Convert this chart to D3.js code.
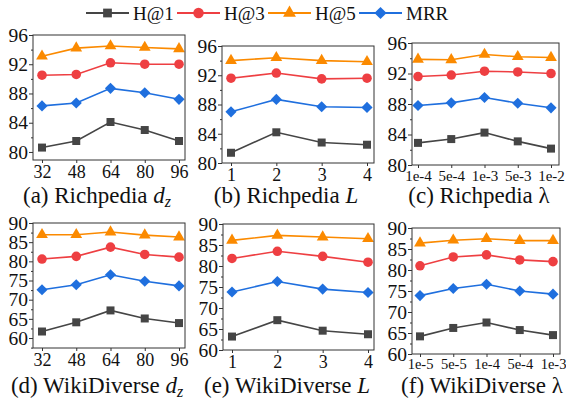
<!DOCTYPE html>
<html lang="en">
<head>
<meta charset="utf-8">
<title>Sensitivity panels</title>
<script src="https://d3js.org/d3.v7.min.js"></script>
</head>
<body style="margin:0">
<div id="chart"></div>
<script>
// categories (x tick labels)
var dzCats = ["32", "48", "64", "80", "96"];
var layerCats = ["1", "2", "3", "4"];
var richLamCats = ["1e-4", "5e-4", "1e-3", "5e-3", "1e-2"];
var wikiLamCats = ["1e-5", "5e-5", "1e-4", "5e-4", "1e-3"];

// y tick labels
var richTicks = [80, 84, 88, 92, 96];
var wikiTicks = [60, 65, 70, 75, 80, 85, 90];

// series names
var seriesNames = ["H@1", "H@3", "H@5", "MRR"];

// (a) Richpedia d_z
var aH1 = [80.6, 81.5, 84.1, 83.0, 81.5];
var aH3 = [90.5, 90.6, 92.2, 92.0, 92.0];
var aH5 = [93.1, 94.2, 94.5, 94.3, 94.1];
var aMRR = [86.3, 86.7, 88.7, 88.1, 87.2];
// (b) Richpedia L
var bH1 = [81.4, 84.2, 82.8, 82.5];
var bH3 = [91.6, 92.3, 91.5, 91.6];
var bH5 = [94.0, 94.4, 94.0, 93.85];
var bMRR = [87.0, 88.7, 87.7, 87.6];
// (c) Richpedia lambda
var cH1 = [82.9, 83.4, 84.25, 83.1, 82.15];
var cH3 = [91.6, 91.8, 92.3, 92.2, 92.0];
var cH5 = [93.85, 93.8, 94.5, 94.2, 94.1];
var cMRR = [87.8, 88.15, 88.85, 88.1, 87.5];
// (d) WikiDiverse d_z
var dH1 = [61.7, 64.1, 67.2, 65.1, 63.9];
var dH3 = [80.6, 81.3, 83.7, 81.8, 81.1];
var dH5 = [86.95, 86.95, 87.65, 86.85, 86.35];
var dMRR = [72.6, 73.9, 76.5, 74.8, 73.6];
// (e) WikiDiverse L
var eH1 = [63.2, 67.1, 64.6, 63.75];
var eH3 = [81.8, 83.5, 82.3, 80.9];
var eH5 = [86.1, 87.3, 86.9, 86.5];
var eMRR = [73.8, 76.3, 74.5, 73.7];
// (f) WikiDiverse lambda
var fH1 = [64.2, 66.2, 67.5, 65.7, 64.5];
var fH3 = [81.0, 83.1, 83.6, 82.4, 82.0];
var fH5 = [86.4, 87.1, 87.45, 87.0, 87.0];
var fMRR = [73.9, 75.6, 76.6, 75.0, 74.25];

var colors = ["#454545", "#ee3f42", "#fb8a00", "#1f6fde"];
var symbols = [d3.symbolSquare, d3.symbolCircle, d3.symbolTriangle, d3.symbolSquare];
var symSize = [64, 72, 60, 62];
var symRot = [0, 0, 0, 45];
var serif = "'Liberation Serif'";

var w = 566, h = 400;

var svg = d3.select("#chart").append("svg")
  .attr("width", w)
  .attr("height", h);

var panels = [
  { cats: dzCats, ticks: richTicks, ymin: 78.9, ymax: 96, data: [aH1, aH3, aH5, aMRR],
    box: [33, 35, 185, 160], xr: [42, 179], tickFont: 18, cx: 97, cy: 203,
    cap: ["(a) Richpedia ", "d", "z"] },
  { cats: layerCats, ticks: richTicks, ymin: 80, ymax: 96, data: [bH1, bH3, bH5, bMRR],
    box: [222, 46, 374, 163], xr: [231, 367], tickFont: 18, cx: 286, cy: 203,
    cap: ["(b) Richpedia ", "L"] },
  { cats: richLamCats, ticks: richTicks, ymin: 80, ymax: 96, data: [cH1, cH3, cH5, cMRR],
    box: [412, 43, 559, 165], xr: [418, 551], tickFont: 15, cx: 479, cy: 203,
    cap: ["(c) Richpedia λ"] },
  { cats: dzCats, ticks: wikiTicks, ymin: 57.4, ymax: 90, data: [dH1, dH3, dH5, dMRR],
    box: [33, 223, 185, 348], xr: [42, 179], tickFont: 18, cx: 97, cy: 393,
    cap: ["(d) WikiDiverse ", "d", "z"] },
  { cats: layerCats, ticks: wikiTicks, ymin: 60, ymax: 90, data: [eH1, eH3, eH5, eMRR],
    box: [223, 224, 374, 350], xr: [232, 368], tickFont: 18, cx: 287, cy: 393,
    cap: ["(e) WikiDiverse ", "L"] },
  { cats: wikiLamCats, ticks: wikiTicks, ymin: 60, ymax: 90, data: [fH1, fH3, fH5, fMRR],
    box: [412, 228, 560, 354], xr: [420, 553], tickFont: 14.5, cx: 482, cy: 393,
    cap: ["(f) WikiDiverse λ"] }
];

panels.forEach(function(p) {
  var g = svg.append("g");
  var x0 = p.box[0], y0 = p.box[1], x1 = p.box[2], y1 = p.box[3];

  var xScale = d3.scalePoint().domain(p.cats).range(p.xr);
  var yScale = d3.scaleLinear().domain([p.ymin, p.ymax]).range([y1, y0]);

  var step = p.ticks[1] - p.ticks[0];
  var minor = [];
  for (var t = p.ticks[0] - step / 2; t <= p.ymax; t += step) {
    if (t >= p.ymin && p.ticks.indexOf(t) < 0) minor.push(t);
  }

  var yAxis = d3.axisLeft(yScale).tickValues(p.ticks).tickSize(4).tickPadding(1).tickFormat(d3.format("d"));
  var yMinor = d3.axisLeft(yScale).tickValues(minor).tickSize(2).tickFormat("");
  var xAxis = d3.axisBottom(xScale).tickSize(3).tickPadding(2);

  var ya = g.append("g").attr("transform", "translate(" + x0 + ",0)").call(yAxis);
  g.append("g").attr("transform", "translate(" + x0 + ",0)").call(yMinor);
  var xa = g.append("g").attr("transform", "translate(0," + y1 + ")").call(xAxis);

  g.selectAll(".domain").remove();
  g.selectAll(".tick line").attr("stroke", "#333");
  ya.selectAll("text").style("font-family", serif).style("font-size", "19.5px").attr("fill", "#111");
  xa.selectAll("text").style("font-family", serif).style("font-size", p.tickFont + "px").attr("fill", "#111");

  var line = d3.line()
    .x(function(d, i) { return xScale(p.cats[i]); })
    .y(function(d) { return yScale(d); });

  p.data.forEach(function(vals, s) {
    g.append("path")
      .datum(vals)
      .attr("d", line)
      .attr("fill", "none")
      .attr("stroke", colors[s])
      .attr("stroke-width", 1.6);

    g.selectAll(".m" + s)
      .data(vals)
      .enter()
      .append("path")
      .attr("d", d3.symbol().type(symbols[s]).size(symSize[s]))
      .attr("transform", function(d, i) {
        return "translate(" + xScale(p.cats[i]) + "," + yScale(d) + ") rotate(" + symRot[s] + ")";
      })
      .attr("fill", colors[s]);
  });

  g.append("rect")
    .attr("x", x0).attr("y", y0)
    .attr("width", x1 - x0).attr("height", y1 - y0)
    .attr("fill", "none")
    .attr("stroke", "#333")
    .attr("stroke-width", 1);

  var cap = g.append("text")
    .attr("x", p.cx).attr("y", p.cy)
    .attr("text-anchor", "middle")
    .attr("fill", "#111")
    .style("font-family", serif)
    .style("font-size", "23px");
  cap.append("tspan").text(p.cap[0]);
  if (p.cap.length > 1) {
    cap.append("tspan").style("font-style", "italic").text(p.cap[1]);
  }
  if (p.cap.length > 2) {
    cap.append("tspan").style("font-style", "italic").style("font-size", "16px")
      .attr("dy", 4).text(p.cap[2]);
  }
});

// legend
var legX = [86, 177, 268, 359];
var legend = svg.append("g");
seriesNames.forEach(function(name, s) {
  var lg = legend.append("g").attr("transform", "translate(" + legX[s] + ",13)");
  lg.append("line").attr("x1", 0).attr("x2", 43).attr("y1", 0).attr("y2", 0)
    .attr("stroke", colors[s]).attr("stroke-width", 1.8);
  lg.append("path")
    .attr("d", d3.symbol().type(symbols[s]).size(symSize[s] * 1.2))
    .attr("transform", "translate(21.5,0) rotate(" + symRot[s] + ")")
    .attr("fill", colors[s]);
  lg.append("text").attr("x", 47).attr("y", 6.5)
    .attr("fill", "#111")
    .style("font-family", serif)
    .style("font-size", "19px").text(name);
});
</script>
</body>
</html>
